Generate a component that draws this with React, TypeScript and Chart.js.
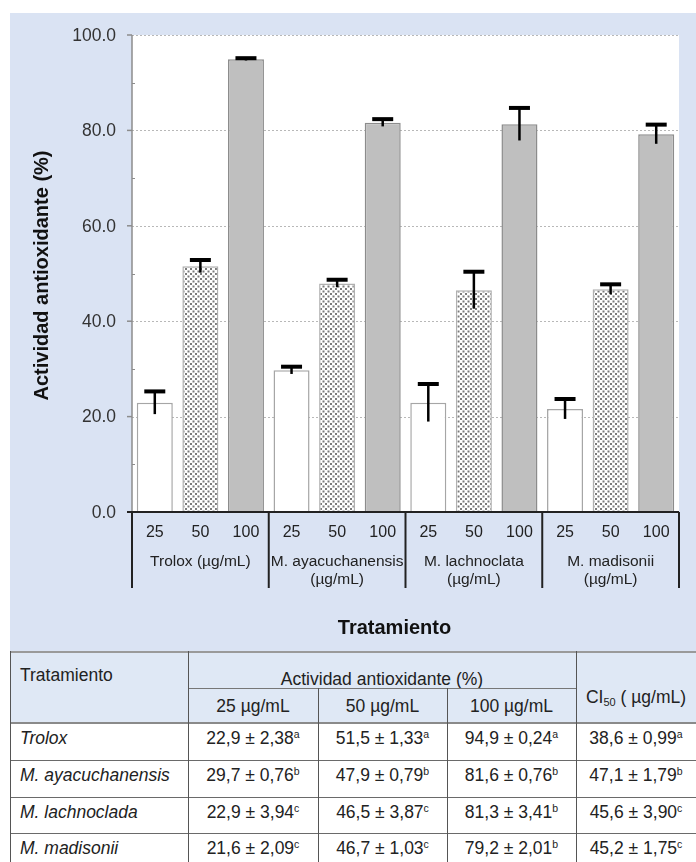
import React, { useEffect, useRef } from "react";
import { Chart, registerables } from "chart.js";

Chart.register(...registerables);

// ---------------- data ----------------
const doses = ["25", "50", "100"];
const chartGroups = [
  ["Trolox (µg/mL)"],
  ["M. ayacuchanensis", "(µg/mL)"],
  ["M. lachnoclata", "(µg/mL)"],
  ["M. madisonii", "(µg/mL)"],
];
const treatments = ["Trolox", "M. ayacuchanensis", "M. lachnoclada", "M. madisonii"];
const mean25 = [22.9, 29.7, 22.9, 21.6];
const sd25 = [2.38, 0.76, 3.94, 2.09];
const sig25 = ["a", "b", "c", "c"];
const mean50 = [51.5, 47.9, 46.5, 46.7];
const sd50 = [1.33, 0.79, 3.87, 1.03];
const sig50 = ["a", "b", "c", "c"];
const mean100 = [94.9, 81.6, 81.3, 79.2];
const sd100 = [0.24, 0.76, 3.41, 2.01];
const sig100 = ["a", "b", "b", "b"];
const ic50 = [38.6, 47.1, 45.6, 45.2];
const ic50Sd = [0.99, 1.79, 3.9, 1.75];
const ic50Sig = ["a", "b", "c", "c"];
const yTicks = [0, 20, 40, 60, 80, 100];
const yMinorTicks = [10, 30, 50, 70, 90];
const yAxisTitle = "Actividad antioxidante (%)";
const xAxisTitle = "Tratamiento";
const tableFirstHeader = "Tratamiento";
const tableGroupHeader = "Actividad antioxidante (%)";
const tableDoseHeaders = ["25 µg/mL", "50 µg/mL", "100 µg/mL"];

const FONT = '"Liberation Sans", Arial, sans-serif';

function makeDots(): CanvasPattern {
  const c = document.createElement("canvas");
  c.width = 5;
  c.height = 5;
  const x = c.getContext("2d")!;
  x.fillStyle = "#ffffff";
  x.fillRect(0, 0, 5, 5);
  x.fillStyle = "#7a7a7a";
  x.fillRect(0, 0, 2, 2);
  x.fillRect(2.5, 2.5, 2, 2);
  return x.createPattern(c, "repeat")!;
}

function BarChart() {
  const ref = useRef<HTMLCanvasElement>(null);
  useEffect(() => {
    const canvas = ref.current!;
    const dots = makeDots();
    const means = [mean25, mean50, mean100];
    const sds = [sd25, sd50, sd100];
    const labels: string[] = [];
    const values: number[] = [];
    const errors: number[] = [];
    const fills: any[] = [];
    const borders: string[] = [];
    chartGroups.forEach((g, gi) => {
      doses.forEach((d, di) => {
        labels.push(d);
        values.push(means[di][gi]);
        errors.push(sds[di][gi]);
        fills.push(di === 0 ? "#ffffff" : di === 1 ? dots : "#bfbfbf");
        borders.push(di === 0 ? "#a6a6a6" : di === 1 ? "#b0b0b0" : "#8c8c8c");
      });
    });

    const line = (ctx: CanvasRenderingContext2D, x1: number, y1: number, x2: number, y2: number) => {
      ctx.beginPath();
      ctx.moveTo(x1, y1);
      ctx.lineTo(x2, y2);
      ctx.stroke();
    };

    const decor = {
      id: "decor",
      beforeDatasetsDraw(chart: any) {
        const { ctx, chartArea: a, scales } = chart;
        const y = scales.y;
        ctx.save();
        ctx.fillStyle = "#ffffff";
        ctx.fillRect(a.left, a.top, a.right - a.left, a.bottom - a.top);
        ctx.strokeStyle = "#b8b8b8";
        ctx.lineWidth = 1;
        ctx.setLineDash([2, 2]);
        yTicks.forEach((t) => {
          if (t === 0) return;
          const py = Math.round(y.getPixelForValue(t)) + 0.5;
          line(ctx, a.left, py, a.right, py);
        });
        ctx.restore();
      },
      afterDatasetsDraw(chart: any) {
        const { ctx, chartArea: a, scales } = chart;
        const x = scales.x;
        const y = scales.y;
        ctx.save();
        // error bars
        const meta = chart.getDatasetMeta(0);
        ctx.strokeStyle = "#000000";
        meta.data.forEach((bar: any, i: number) => {
          const v = values[i];
          const e = errors[i];
          const yt = y.getPixelForValue(v + e);
          const yb = y.getPixelForValue(v - e);
          ctx.lineWidth = 2.5;
          line(ctx, bar.x, yb, bar.x, yt);
          ctx.lineWidth = 4;
          line(ctx, bar.x - 10.5, yt, bar.x + 10.5, yt);
        });
        // y axis
        ctx.strokeStyle = "#8c8c8c";
        ctx.lineWidth = 1.5;
        line(ctx, a.left, a.top, a.left, a.bottom);
        yTicks.forEach((t) => {
          const py = y.getPixelForValue(t);
          line(ctx, a.left - 5, py, a.left, py);
        });
        ctx.lineWidth = 1;
        yMinorTicks.forEach((t) => {
          const py = Math.round(y.getPixelForValue(t)) + 0.5;
          line(ctx, a.left, py, a.left + 3, py);
        });
        // x axis and group separators
        ctx.strokeStyle = "#222222";
        ctx.lineWidth = 2;
        line(ctx, a.left - 5, a.bottom, a.right, a.bottom);
        const half = (x.getPixelForValue(1) - x.getPixelForValue(0)) / 2;
        const seps: number[] = [];
        chartGroups.forEach((_, gi) => seps.push(x.getPixelForValue(gi * doses.length) - half));
        seps.push(x.getPixelForValue(labels.length - 1) + half);
        seps.forEach((sx) => line(ctx, sx, a.bottom, sx, a.bottom + 76));
        // y tick labels
        ctx.fillStyle = "#333333";
        ctx.font = `17.5px ${FONT}`;
        ctx.textAlign = "right";
        ctx.textBaseline = "middle";
        yTicks.forEach((t) => {
          ctx.fillText(t.toFixed(1), a.left - 16, y.getPixelForValue(t) + 1);
        });
        // x tick labels
        ctx.fillStyle = "#222222";
        ctx.font = `16px ${FONT}`;
        ctx.textAlign = "center";
        labels.forEach((l, i) => {
          ctx.fillText(l, x.getPixelForValue(i), a.bottom + 21);
        });
        // group labels
        ctx.font = `15.5px ${FONT}`;
        chartGroups.forEach((g, gi) => {
          const cx = (seps[gi] + seps[gi + 1]) / 2;
          g.forEach((txt, li) => {
            ctx.fillText(txt, cx, a.bottom + 50 + li * 18);
          });
        });
        // axis titles
        ctx.fillStyle = "#111111";
        ctx.font = `bold 20px ${FONT}`;
        ctx.fillText(xAxisTitle, (a.left + a.right) / 2 - 11, a.bottom + 116);
        ctx.save();
        ctx.translate(32, (a.top + a.bottom) / 2 + 2);
        ctx.rotate(-Math.PI / 2);
        ctx.fillText(yAxisTitle, 0, 0);
        ctx.restore();
        ctx.restore();
      },
    };

    const chart = new Chart(canvas, {
      type: "bar",
      data: {
        labels,
        datasets: [
          {
            data: values,
            backgroundColor: fills,
            borderColor: borders,
            borderWidth: 1.5,
            barPercentage: 0.79,
            categoryPercentage: 1,
          } as any,
        ],
      },
      options: {
        responsive: false,
        animation: false,
        devicePixelRatio: 1,
        layout: { padding: { left: 0, top: 22, right: 17, bottom: 0 } },
        plugins: { legend: { display: false }, tooltip: { enabled: false } },
        scales: {
          x: {
            grid: { display: false },
            border: { display: false },
            ticks: { display: false },
            afterFit: (s: any) => {
              s.height = 139;
            },
          },
          y: {
            min: 0,
            max: 100,
            grid: { display: false },
            border: { display: false },
            ticks: { display: false },
            afterFit: (s: any) => {
              s.width = 122;
            },
          },
        },
      } as any,
      plugins: [decor],
    });
    return () => chart.destroy();
  }, []);
  return (
    <canvas
      ref={ref}
      width={686}
      height={638}
      style={{ position: "absolute", left: 10, top: 13, width: 686, height: 638 }}
    />
  );
}

const fmt = (v: number, d: number) => v.toFixed(d).replace(".", ",");

function DataTable() {
  const colX = [10, 188, 318, 447, 576, 720];
  const rowY = [652, 688, 723, 760, 797, 833, 870];
  const els: any[] = [];
  let k = 0;
  const rect = (l: number, t: number, w: number, h: number, bg: string) =>
    els.push(
      <div key={k++} style={{ position: "absolute", left: l, top: t, width: w, height: h, background: bg }} />
    );
  const text = (l: number, w: number, cy: number, content: any, align: "left" | "center", italic = false, pad = 0) =>
    els.push(
      <div
        key={k++}
        style={{
          position: "absolute",
          left: l + pad,
          width: w - pad,
          top: cy - 12,
          height: 24,
          lineHeight: "24px",
          fontSize: 17.5,
          fontFamily: FONT,
          fontStyle: italic ? "italic" : "normal",
          color: "#222",
          textAlign: align,
          whiteSpace: "nowrap",
        }}
      >
        {content}
      </div>
    );
  const sup = (s: string) => (
    <span style={{ fontSize: 10.5, position: "relative", top: -6 }}>{s}</span>
  );

  // backgrounds
  rect(10, rowY[0], 710, rowY[2] - rowY[0], "#dfe8f5");
  rect(10, rowY[2], 710, rowY[6] - rowY[2], "#ffffff");

  // header texts
  text(colX[0], colX[1] - colX[0], 675, tableFirstHeader, "left", false, 10);
  text(colX[1], colX[4] - colX[1], 678.5, tableGroupHeader, "center");
  tableDoseHeaders.forEach((h, i) => text(colX[1 + i], colX[2 + i] - colX[1 + i], 706, h, "center"));
  text(
    colX[4],
    120,
    697,
    <span>
      CI<span style={{ fontSize: 11, position: "relative", top: 3 }}>50</span> ( µg/mL)
    </span>,
    "center"
  );

  // data rows
  const cols = [
    [mean25, sd25, sig25],
    [mean50, sd50, sig50],
    [mean100, sd100, sig100],
    [ic50, ic50Sd, ic50Sig],
  ] as any[];
  treatments.forEach((t, r) => {
    const cy = rowY[2 + r] + 14.5;
    text(colX[0], colX[1] - colX[0], cy, t, "left", true, 10);
    cols.forEach((c, ci) => {
      const w = ci === 3 ? 120 : colX[2 + ci] - colX[1 + ci];
      text(
        colX[1 + ci],
        w,
        cy,
        <span>
          {fmt(c[0][r], 1)} ± {fmt(c[1][r], 2)}
          {sup(c[2][r])}
        </span>,
        "center"
      );
    });
  });

  // lines
  rect(10, 651, 710, 2, "#9a9a9a");
  rect(colX[1], rowY[1] - 0.5, colX[4] - colX[1], 1.5, "#777");
  rect(10, rowY[2] - 1, 710, 2, "#8a8a8a");
  [3, 4, 5].forEach((ri) => rect(10, rowY[ri] - 0.5, 710, 1.5, "#6a6a6a"));
  rect(9.5, 651, 1.5, 220, "#555");
  rect(colX[1] - 0.5, 651, 1.5, 220, "#555");
  rect(colX[2] - 0.5, rowY[1], 1.5, 220, "#555");
  rect(colX[3] - 0.5, rowY[1], 1.5, 220, "#555");
  rect(colX[4] - 0.5, 651, 1.5, 220, "#555");

  return <>{els}</>;
}

export default function App() {
  return (
    <div
      style={{
        position: "absolute",
        left: 0,
        top: 0,
        width: 696,
        height: 862,
        overflow: "hidden",
        background: "#ffffff",
      }}
    >
      <div style={{ position: "absolute", left: 10, top: 13, width: 700, height: 638, background: "#dae3f3" }} />
      <BarChart />
      <DataTable />
    </div>
  );
}
